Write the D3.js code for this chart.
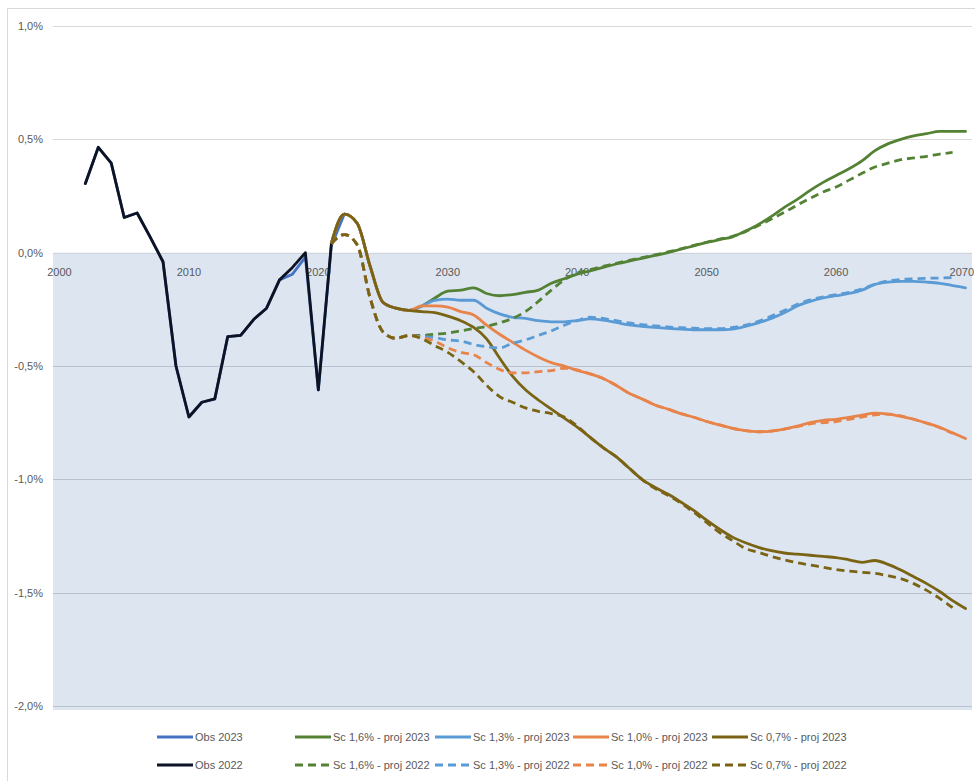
<!DOCTYPE html>
<html>
<head>
<meta charset="utf-8">
<script src="https://cdn.jsdelivr.net/npm/d3@7"></script>
<style>
  html, body { margin: 0; padding: 0; background: #ffffff; }
  svg { display: block; font-family: "Liberation Sans", Arial, sans-serif; }
</style>
</head>
<body>
<svg id="chart" width="975" height="781"></svg>
<script>
// ---------------- DATA ----------------
const years = d3.range(2000, 2071);
const xTickLabels = [2000, 2010, 2020, 2030, 2040, 2050, 2060, 2070];
const yTickValues = [1.0, 0.5, 0.0, -0.5, -1.0, -1.5, -2.0];

// Observations (start year 2002)
const obsStart = 2002;
const obs2023 = [0.305, 0.465, 0.395, 0.155, 0.175, 0.07, -0.04, -0.50, -0.725, -0.66,
                 -0.645, -0.37, -0.365, -0.295, -0.245, -0.12, -0.095, -0.02, -0.605, 0.03, 0.17];
const obs2022 = [0.305, 0.465, 0.395, 0.155, 0.175, 0.07, -0.04, -0.50, -0.725, -0.66,
                 -0.645, -0.37, -0.365, -0.295, -0.245, -0.12, -0.065, 0.0, -0.605, 0.035];

// Projections 2023 (start year 2021)
const proj2023Start = 2021;
const sc16_2023 = [0.04, 0.17, 0.13, -0.06, -0.22, -0.245, -0.255,
  -0.235, -0.20, -0.17, -0.165, -0.155, -0.18, -0.19, -0.185, -0.175, -0.165, -0.135, -0.115,
  -0.095, -0.08, -0.065, -0.05, -0.037, -0.025, -0.012, 0.0, 0.015, 0.03,
  0.045, 0.058, 0.07, 0.095, 0.124, 0.16, 0.2, 0.235, 0.275, 0.31,
  0.34, 0.37, 0.405, 0.45, 0.48, 0.50, 0.515, 0.525, 0.535, 0.535, 0.535];
const sc13_2023 = [0.04, 0.17, 0.13, -0.06, -0.22, -0.245, -0.255,
  -0.235, -0.21, -0.205, -0.21, -0.21, -0.245, -0.27, -0.285, -0.29, -0.30, -0.305, -0.305,
  -0.30, -0.292, -0.298, -0.308, -0.318, -0.325, -0.33, -0.334, -0.337, -0.34,
  -0.34, -0.34, -0.337, -0.325, -0.31, -0.29, -0.265, -0.235, -0.215, -0.2,
  -0.19, -0.18, -0.165, -0.14, -0.13, -0.127, -0.127, -0.13, -0.135, -0.145, -0.155];
const sc10_2023 = [0.04, 0.17, 0.13, -0.06, -0.22, -0.245, -0.255,
  -0.235, -0.235, -0.24, -0.26, -0.275, -0.32, -0.36, -0.395, -0.43, -0.46, -0.485, -0.50,
  -0.52, -0.535, -0.555, -0.585, -0.62, -0.645, -0.672, -0.69, -0.71, -0.726,
  -0.745, -0.76, -0.775, -0.785, -0.79, -0.787, -0.778, -0.765, -0.75, -0.74,
  -0.735, -0.727, -0.717, -0.708, -0.712, -0.722, -0.735, -0.752, -0.77, -0.795, -0.82];
const sc07_2023 = [0.04, 0.17, 0.13, -0.06, -0.22, -0.245, -0.255,
  -0.26, -0.265, -0.28, -0.30, -0.33, -0.38, -0.465, -0.545, -0.605, -0.65, -0.69, -0.73,
  -0.77, -0.815, -0.86, -0.90, -0.95, -1.0, -1.035, -1.065, -1.10, -1.137,
  -1.18, -1.22, -1.255, -1.28, -1.30, -1.315, -1.325, -1.33, -1.335, -1.34,
  -1.345, -1.355, -1.366, -1.358, -1.375, -1.40, -1.43, -1.46, -1.495, -1.535, -1.57];

// Projections 2022 (start year 2021)
const proj2022Start = 2021;
const sc16_2022 = [0.04, 0.08, 0.035, -0.2, -0.35, -0.378, -0.365,
  -0.365, -0.36, -0.355, -0.345, -0.335, -0.325, -0.31, -0.29, -0.26, -0.215, -0.165, -0.12,
  -0.09, -0.075, -0.06, -0.047, -0.034, -0.022, -0.01, 0.003, 0.017, 0.032,
  0.046, 0.06, 0.072, 0.093, 0.12, 0.148, 0.178, 0.21, 0.24, 0.268,
  0.29, 0.32, 0.35, 0.378, 0.395, 0.41, 0.418, 0.425, 0.435, 0.442];
const sc13_2022 = [0.04, 0.08, 0.035, -0.2, -0.35, -0.378, -0.365,
  -0.37, -0.375, -0.385, -0.39, -0.405, -0.415, -0.42, -0.40, -0.385, -0.365, -0.345, -0.32,
  -0.30, -0.285, -0.29, -0.30, -0.31, -0.318, -0.323, -0.328, -0.331, -0.333,
  -0.335, -0.335, -0.33, -0.32, -0.303, -0.28, -0.255, -0.228, -0.208, -0.195,
  -0.185, -0.175, -0.16, -0.14, -0.125, -0.118, -0.115, -0.113, -0.112, -0.11];
const sc10_2022 = [0.04, 0.08, 0.035, -0.2, -0.35, -0.378, -0.365,
  -0.375, -0.39, -0.42, -0.44, -0.45, -0.485, -0.515, -0.53, -0.53, -0.525, -0.52, -0.51,
  -0.517, -0.535, -0.555, -0.585, -0.62, -0.645, -0.672, -0.69, -0.71, -0.726,
  -0.745, -0.76, -0.775, -0.785, -0.79, -0.787, -0.778, -0.768, -0.755, -0.75,
  -0.745, -0.735, -0.725, -0.715, -0.712, -0.72, -0.735, -0.752, -0.772, -0.797];
const sc07_2022 = [0.04, 0.08, 0.035, -0.2, -0.35, -0.378, -0.365,
  -0.38, -0.41, -0.44, -0.48, -0.525, -0.585, -0.635, -0.66, -0.685, -0.70, -0.71, -0.725,
  -0.765, -0.815, -0.86, -0.90, -0.95, -1.0, -1.04, -1.07, -1.105, -1.145,
  -1.19, -1.235, -1.27, -1.305, -1.322, -1.34, -1.355, -1.368, -1.378, -1.388,
  -1.398, -1.405, -1.41, -1.415, -1.425, -1.438, -1.46, -1.49, -1.525, -1.566];

const seriesNames = [
  "Obs 2023", "Sc 1,6% - proj 2023", "Sc 1,3% - proj 2023", "Sc 1,0% - proj 2023", "Sc 0,7% - proj 2023",
  "Obs 2022", "Sc 1,6% - proj 2022", "Sc 1,3% - proj 2022", "Sc 1,0% - proj 2022", "Sc 0,7% - proj 2022"
];
const seriesValues = [obs2023, sc16_2023, sc13_2023, sc10_2023, sc07_2023,
                      obs2022, sc16_2022, sc13_2022, sc10_2022, sc07_2022];
const seriesStarts = [obsStart, proj2023Start, proj2023Start, proj2023Start, proj2023Start,
                      obsStart, proj2022Start, proj2022Start, proj2022Start, proj2022Start];

// ---------------- STYLES ----------------
const seriesColors = ["#4472C4", "#548235", "#5B9BD5", "#E8834A", "#7A6414",
                      "#0d1322", "#548235", "#5B9BD5", "#E8834A", "#7A6414"];
const seriesDashed = [false, false, false, false, false, false, true, true, true, true];
const seriesSmooth = [false, true, true, true, true, false, true, true, true, true];

// ---------------- CHART ----------------
const svg = d3.select("#chart");
const W = 975, H = 781;
const plotLeft = 53, plotRight = 972;

const x = d3.scaleBand().domain(years).range([plotLeft, plotRight]).padding(0);
const cx = yr => x(yr) + x.bandwidth() / 2;
const y = d3.scaleLinear().domain([-2, 1]).range([706, 26]);

const locale = d3.formatLocale({decimal: ",", thousands: " ", grouping: [3], currency: ["", "€"], minus: "-"});
const fmt = locale.format(".1f");

// outer frame
svg.append("line").attr("x1", 7.5).attr("x2", 7.5).attr("y1", 8.5).attr("y2", H)
  .attr("stroke", "#d9d9d9").attr("stroke-width", 1);
svg.append("line").attr("x1", 7.5).attr("x2", W).attr("y1", 8.5).attr("y2", 8.5)
  .attr("stroke", "#d9d9d9").attr("stroke-width", 1);

// shaded negative zone
svg.append("rect")
  .attr("x", plotLeft).attr("width", plotRight - plotLeft)
  .attr("y", y(0)).attr("height", y(-2) - y(0) + 4)
  .attr("fill", "#dde5f1");

// gridlines
svg.append("g").selectAll("line").data(yTickValues).join("line")
  .attr("x1", plotLeft).attr("x2", plotRight)
  .attr("y1", d => Math.round(y(d)) + 0.5).attr("y2", d => Math.round(y(d)) + 0.5)
  .attr("stroke", d => d > 0 ? "#d9d9d9" : (d === 0 ? "#cfd3da" : "#b9c1ce"))
  .attr("stroke-width", 1.2);

// y axis labels
const yAxis = d3.axisLeft(y).tickValues(yTickValues).tickSize(0).tickPadding(10)
  .tickFormat(d => fmt(d) + "%");
const gy = svg.append("g").attr("transform", `translate(${plotLeft},0)`).call(yAxis);
gy.select(".domain").remove();
gy.selectAll("text").attr("fill", "#595959").attr("font-size", 11)
  .attr("font-family", "Liberation Sans, Arial, sans-serif");

// x axis labels
const xAxis = d3.axisBottom(x).tickValues(xTickLabels).tickSize(0).tickPadding(16);
const gx = svg.append("g").attr("transform", `translate(0,${y(0)})`).call(xAxis);
gx.select(".domain").remove();
gx.selectAll("text").attr("fill", "#595959").attr("font-size", 11)
  .attr("font-family", "Liberation Sans, Arial, sans-serif");
// keep the last label inside the picture
gx.selectAll(".tick").filter(d => d === 2070).select("text")
  .attr("text-anchor", "end").attr("x", W - 1 - cx(2070));

// series
const series = seriesNames.map((name, i) => ({
  name,
  color: seriesColors[i],
  dashed: seriesDashed[i],
  smooth: seriesSmooth[i],
  points: seriesValues[i].map((v, k) => ({year: seriesStarts[i] + k, value: v}))
}));

const gLines = svg.append("g");
series.forEach(s => {
  const line = d3.line()
    .x(d => cx(d.year))
    .y(d => y(d.value))
    .curve(s.smooth ? d3.curveMonotoneX : d3.curveLinear);
  gLines.append("path")
    .datum(s.points)
    .attr("d", line)
    .attr("fill", "none")
    .attr("stroke", s.color)
    .attr("stroke-width", 2.8)
    .attr("stroke-linejoin", "round")
    .attr("stroke-linecap", s.dashed ? "butt" : "round")
    .attr("stroke-dasharray", s.dashed ? "8,5" : null);
});

// legend
const legendCols = [157, 295, 435, 573, 712];
const legendRows = [737, 765];
const gLeg = svg.append("g");
series.forEach((s, i) => {
  const col = i % 5, row = Math.floor(i / 5);
  const lx = legendCols[col], ly = legendRows[row];
  gLeg.append("line")
    .attr("x1", lx).attr("x2", lx + 36)
    .attr("y1", ly).attr("y2", ly)
    .attr("stroke", s.color).attr("stroke-width", 2.8)
    .attr("stroke-dasharray", s.dashed ? "8,5" : null);
  gLeg.append("text")
    .attr("x", lx + 38).attr("y", ly).attr("dy", "0.35em")
    .attr("fill", "#595959").attr("font-size", 11)
    .text(s.name);
});
</script>
</body>
</html>
